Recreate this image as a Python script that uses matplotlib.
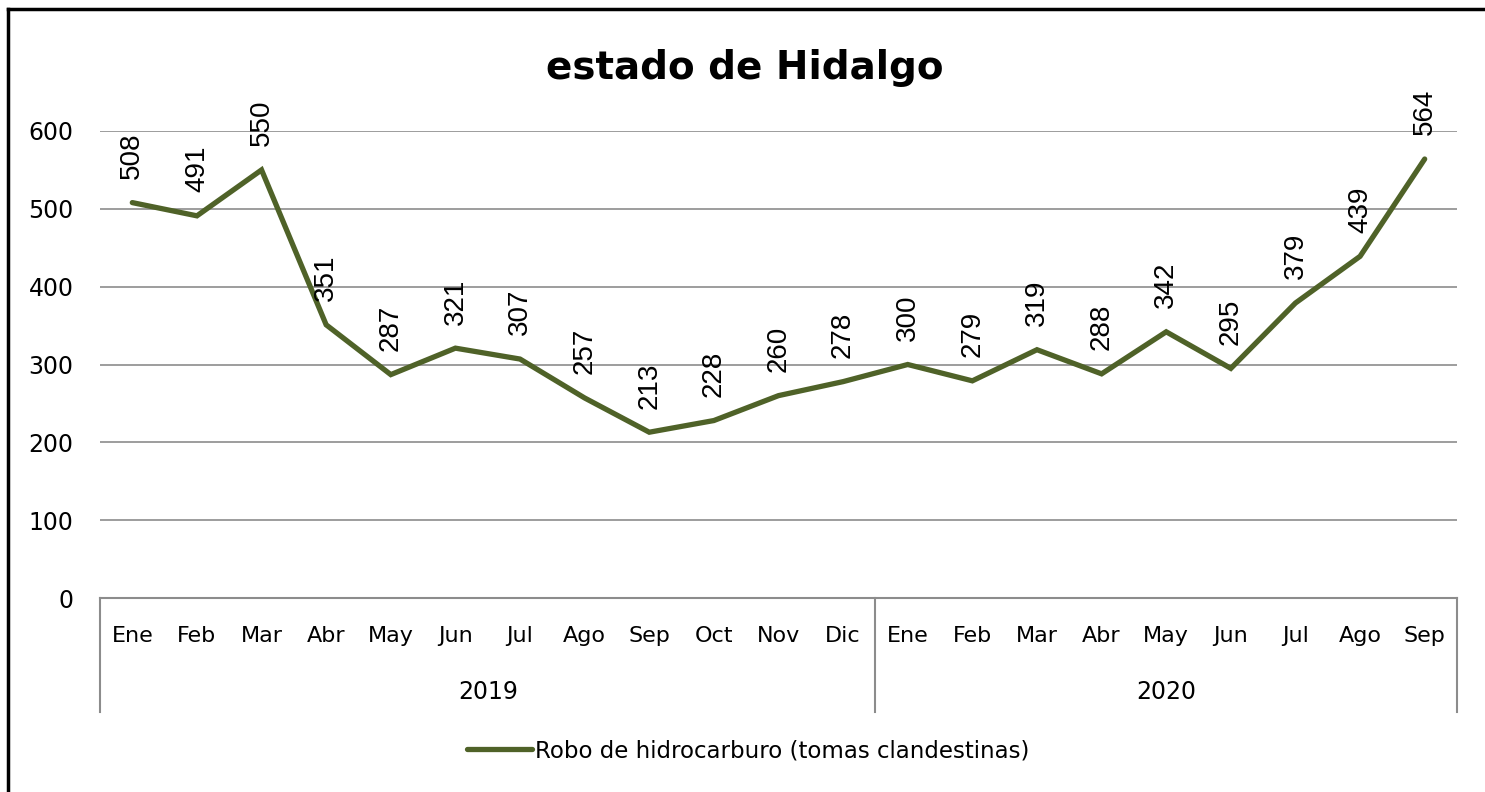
import matplotlib
matplotlib.use("Agg")
import matplotlib.pyplot as plt
from matplotlib.lines import Line2D

# datos
meses = ["Ene", "Feb", "Mar", "Abr", "May", "Jun", "Jul", "Ago", "Sep", "Oct", "Nov", "Dic",
         "Ene", "Feb", "Mar", "Abr", "May", "Jun", "Jul", "Ago", "Sep"]
valores = [508, 491, 550, 351, 287, 321, 307, 257, 213, 228, 260, 278,
           300, 279, 319, 288, 342, 295, 379, 439, 564]
anios = ["2019", "2020"]
meses_por_anio = [12, 9]

color_linea = "#4F6228"
gris = "#8C8C8C"

fig = plt.figure(figsize=(14.85, 7.92), dpi=100)
ax = fig.add_axes([100 / 1485, 1 - 598 / 792, 1357 / 1485, 467 / 792])

x = list(range(len(valores)))
ax.plot(x, valores, color=color_linea, linewidth=3.8, solid_capstyle="round",
        solid_joinstyle="miter", zorder=3)

for xi, v in zip(x, valores):
    ax.annotate(str(v), (xi, v), xytext=(0, 17), textcoords="offset points",
                rotation=90, ha="center", va="bottom", fontsize=20,
                family="Liberation Sans", color="black", annotation_clip=False)

ax.set_xlim(-0.5, len(valores) - 0.5)
ax.set_ylim(0, 600)
ax.set_yticks(range(0, 601, 100))
ax.set_yticklabels([str(t) for t in range(0, 601, 100)], fontsize=17, family="DejaVu Sans")
ax.tick_params(axis="y", length=0, pad=19)
ax.set_xticks([])
ax.yaxis.grid(True, color=gris, linewidth=1.2)
ax.set_axisbelow(True)
for s in ["top", "right", "left"]:
    ax.spines[s].set_visible(False)
ax.spines["bottom"].set_color(gris)
ax.spines["bottom"].set_linewidth(1.5)

# etiquetas de meses y años
tr = ax.get_xaxis_transform()
for xi, m in zip(x, meses):
    ax.text(xi, -0.0814, m, transform=tr, ha="center", va="center", fontsize=16,
            family="DejaVu Sans")

inicio = -0.5
bordes = [inicio]
for n, anio in zip(meses_por_anio, anios):
    fin = inicio + n
    ax.text((inicio + fin) / 2, -0.201, anio, transform=tr, ha="center", va="center",
            fontsize=17, family="DejaVu Sans")
    bordes.append(fin)
    inicio = fin
for b in bordes:
    ax.plot([b, b], [0, -0.244], transform=tr, color=gris, linewidth=1.5, clip_on=False)

fig.text(745 / 1485, 1 - 68 / 792, "estado de Hidalgo", ha="center", va="center",
         fontsize=28, fontweight="bold", family="DejaVu Sans")

handle = Line2D([], [], color=color_linea, linewidth=3.8, solid_capstyle="round")
fig.legend([handle], ["Robo de hidrocarburo (tomas clandestinas)"], loc="center",
           bbox_to_anchor=(748 / 1485, 1 - 751 / 792), frameon=False,
           prop={"family": "DejaVu Sans", "size": 16.5}, handlelength=2.85, handletextpad=0.1)

# borde de la imagen
fig.add_artist(Line2D([8 / 1485, 8 / 1485], [0, 1 - 9 / 792], color="black", linewidth=2.5))
fig.add_artist(Line2D([8 / 1485, 1], [1 - 9 / 792, 1 - 9 / 792], color="black", linewidth=2.5))

fig.savefig("out.png", dpi=100)
